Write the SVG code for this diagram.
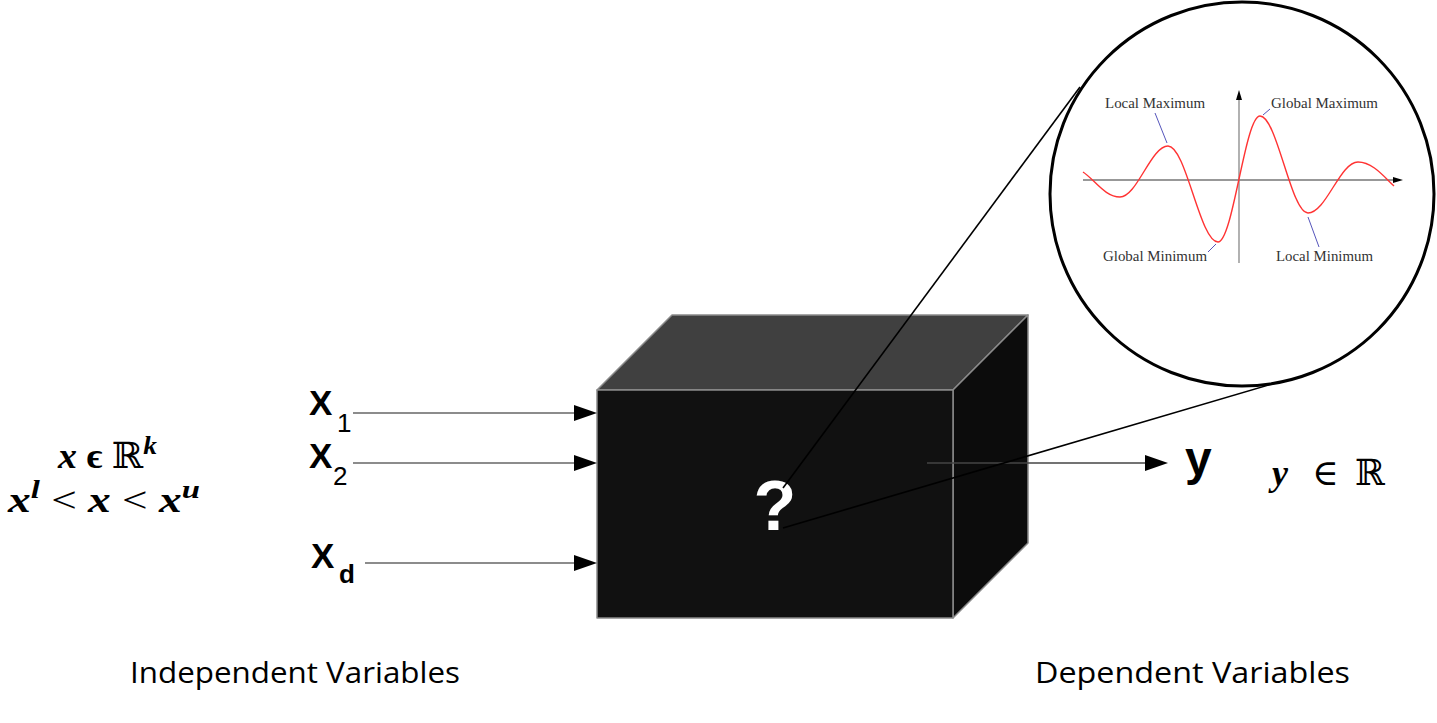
<svg xmlns="http://www.w3.org/2000/svg" width="1437" height="723" viewBox="0 0 1437 723">
<style>
.lbl{font-family:"Liberation Sans",Arial,sans-serif;font-weight:bold;fill:#000}
.sub{font-family:"Liberation Sans",Arial,sans-serif;font-weight:normal;fill:#000;font-size:26px}
.math{font-family:"Liberation Serif","DejaVu Serif",serif;font-size:36px;fill:#000}
.bi{font-weight:bold;font-style:italic}
.cap{font-family:"Open Sans","Liberation Sans",sans-serif;font-size:30px;fill:#000}
.gl{font-family:"Liberation Serif","DejaVu Serif",serif;font-size:14px;fill:#333}
.edge{stroke:#8a8a8a;stroke-width:1.5;stroke-linejoin:round}
.conn{stroke:#666;stroke-width:1.6;fill:none}
.zoomln{stroke:#000;stroke-width:1.6;fill:none}
.lead{stroke:#5555bb;stroke-width:1;fill:none}
</style>
<rect width="1437" height="723" fill="#fff"/>

<g id="blackbox">
  <polygon class="edge" points="597,390 672,315 1028,315 953,390" fill="#404040"/>
  <polygon class="edge" points="953,390 1028,315 1028,543 953,618" fill="#0c0c0c"/>
  <rect class="edge" x="597" y="390" width="356" height="228" fill="#111"/>
  <text x="775" y="530" text-anchor="middle" font-family="'Liberation Sans',Arial,sans-serif" font-weight="bold" font-size="70" fill="#fff">?</text>
</g>

<g id="connectors">
  <line class="conn" x1="353" y1="413" x2="577" y2="413"/>
  <polygon points="597,413 574,405 574,421" fill="#000"/>
  <line class="conn" x1="353" y1="463" x2="577" y2="463"/>
  <polygon points="597,463 574,455 574,471" fill="#000"/>
  <line class="conn" x1="365" y1="563" x2="577" y2="563"/>
  <polygon points="597,563 574,555 574,571" fill="#000"/>
  <line x1="927" y1="463" x2="1148" y2="463" stroke="#444" stroke-width="1.6"/>
  <polygon points="1168,463 1145,455 1145,471" fill="#000"/>
  <line class="zoomln" x1="783" y1="488" x2="1080" y2="87"/>
  <line class="zoomln" x1="783" y1="528" x2="1289" y2="379"/>
</g>

<g id="inputs">
  <text class="lbl" x="309" y="415" font-size="35">X</text>
  <text class="sub" x="337" y="432">1</text>
  <text class="lbl" x="309" y="468" font-size="35">X</text>
  <text class="sub" x="333" y="485">2</text>
  <text class="lbl" x="311" y="568" font-size="35">X</text>
  <text class="lbl" x="339" y="583" font-size="26">d</text>
</g>

<g id="input-math">
  <text class="math" x="58" y="468" textLength="99" lengthAdjust="spacingAndGlyphs"><tspan class="bi">x</tspan> <tspan font-weight="bold">ϵ</tspan> ℝ<tspan class="bi" dy="-14" font-size="26">k</tspan></text>
  <text class="math" x="8" y="512" textLength="192" lengthAdjust="spacingAndGlyphs"><tspan class="bi">x</tspan><tspan class="bi" dy="-14" font-size="26">l</tspan><tspan dy="14"> &lt; </tspan><tspan class="bi">x</tspan><tspan> &lt; </tspan><tspan class="bi">x</tspan><tspan class="bi" dy="-14" font-size="26">u</tspan></text>
</g>

<g id="output">
  <text class="lbl" x="1185" y="475" font-size="48">y</text>
  <text class="math" x="1272" y="485"><tspan class="bi">y</tspan></text>
  <text class="math" x="1312" y="485">∈</text>
  <text class="math" x="1355" y="485">ℝ</text>
</g>

<g id="captions">
  <text class="cap" x="130" y="683" textLength="330" lengthAdjust="spacingAndGlyphs">Independent Variables</text>
  <text class="cap" x="1035" y="683" textLength="315" lengthAdjust="spacingAndGlyphs">Dependent Variables</text>
</g>

<g id="zoom-circle">
  <circle cx="1242" cy="194" r="192" fill="#fff" stroke="#000" stroke-width="3"/>
  <line x1="1083" y1="180" x2="1396" y2="180" stroke="#333" stroke-width="1.2"/>
  <polygon points="1403,180 1393,177 1393,183" fill="#000"/>
  <line x1="1239" y1="263" x2="1239" y2="97" stroke="#888" stroke-width="1.3"/>
  <polygon points="1239,90 1236,100 1242,100" fill="#000"/>
  <path d="M1083,172 C1095,180 1105,197 1120,197 C1137,197 1151,146 1168,146 C1186,146 1200,242 1218,242 C1233,242 1245,116 1260,116 C1277,116 1291,213 1308,213 C1326,213 1340,162 1358,162 C1373,162 1385,178 1394,186" fill="none" stroke="#ff3333" stroke-width="1.4"/>
  <line class="lead" x1="1155" y1="113" x2="1167" y2="143"/>
  <line class="lead" x1="1263" y1="115" x2="1270" y2="109"/>
  <line class="lead" x1="1208" y1="252" x2="1216" y2="244"/>
  <line class="lead" x1="1308" y1="217" x2="1319" y2="247"/>
  <text class="gl" x="1105" y="108" textLength="100" lengthAdjust="spacingAndGlyphs">Local Maximum</text>
  <text class="gl" x="1271" y="108" textLength="107" lengthAdjust="spacingAndGlyphs">Global Maximum</text>
  <text class="gl" x="1103" y="261" textLength="104" lengthAdjust="spacingAndGlyphs">Global Minimum</text>
  <text class="gl" x="1276" y="261" textLength="97" lengthAdjust="spacingAndGlyphs">Local Minimum</text>
</g>
</svg>
